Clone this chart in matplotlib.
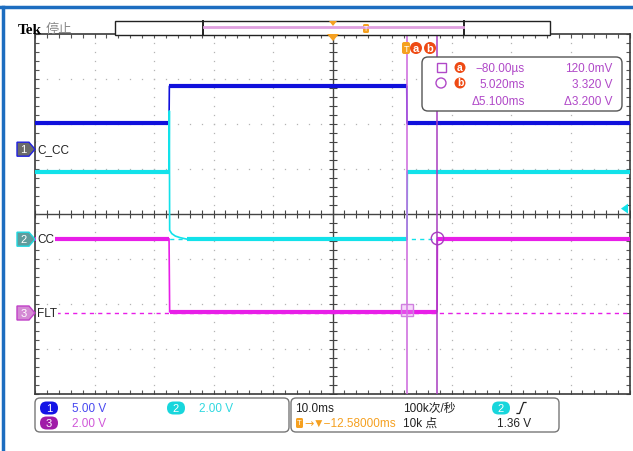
import matplotlib
matplotlib.use("Agg")
import matplotlib.pyplot as plt
from matplotlib.patches import FancyBboxPatch, Polygon, Rectangle, Circle
from matplotlib.ticker import FixedLocator

W, H = 633, 452

# horizontal: 10 ms/div, screen centre sits 12.58 ms before the trigger
ms_per_div = 10.0
centre_ms = -12.58
t_min = centre_ms - 5 * ms_per_div
t_max = centre_ms + 5 * ms_per_div

ch_names = ["C_CC", "CC", "FLT"]
ch_volts_div = [5.00, 2.00, 2.00]
ch_offset_div = [1.44, -0.56, -2.20]
ch_colors = ["#1010DC", "#12E2EA", "#E81EE8"]

# waveforms (time in ms from trigger, volts)
ch1_t = [t_min, -40.05, -40.00, -0.10, -0.06, t_max]
ch1_v = [2.9, 2.9, 7.0, 7.0, 2.9, 2.9]
ch2_t = [t_min, -40.05, -40.00, -39.95, -39.6, -39.0, -38.2, -37.0, -0.05, 0.0, t_max]
ch2_v = [3.0, 3.0, 5.7, 0.40, 0.25, 0.14, 0.07, 0.0, 0.0, 3.0, 3.0]
ch3_t = [t_min, -40.05, -39.95, 5.00, 5.05, t_max]
ch3_v = [3.3, 3.3, 0.05, 0.05, 3.3, 3.3]
traces = [(ch1_t, ch1_v), (ch2_t, ch2_v), (ch3_t, ch3_v)]

trig_level_v = 1.36          # on ch2
cursor_t = [-0.08, 5.02]     # ms
cursor_v = [0.12, 3.32]      # V, on ch3

FONT = ["Liberation Sans", "DejaVu Sans", "Noto Sans CJK SC"]
PURPLE = "#B048C8"
ORANGE = "#F5A020"
RED = "#EE4A14"


def to_div(v, ch):
    return ch_offset_div[ch] + v / ch_volts_div[ch]


fig = plt.figure(figsize=(W / 100, H / 100), dpi=100)
fig.patch.set_facecolor("white")

ax = fig.add_axes([35 / W, 1 - 395 / H, 595 / W, 360 / H])
ax.set_xlim(t_min, t_max)
ax.set_ylim(-4, 4)
for s in ax.spines.values():
    s.set_color("#3a3a3a")
    s.set_linewidth(1.2)

# graticule: dotted division lines, ticked centre cross
minor_x = [t_min + k * ms_per_div / 5 for k in range(51)]
minor_y = [-4 + k * 0.2 for k in range(41)]
ax.xaxis.set_major_locator(FixedLocator([]))
ax.yaxis.set_major_locator(FixedLocator([]))
ax.xaxis.set_minor_locator(FixedLocator(minor_x))
ax.yaxis.set_minor_locator(FixedLocator(minor_y))
ax.tick_params(which="minor", direction="in", length=3, width=0.8, color="#555555",
               top=True, right=True, labelbottom=False, labelleft=False)
for k in range(1, 10):
    if k == 5:
        continue
    xg = t_min + k * ms_per_div
    ax.plot([xg] * len(minor_y), minor_y, ls="none", marker="s", ms=0.9,
            color="#b4b4b4", mew=0, zorder=1)
for k in range(1, 8):
    if k == 4:
        continue
    yg = -4 + k
    ax.plot(minor_x, [yg] * len(minor_x), ls="none", marker="s", ms=0.9,
            color="#b4b4b4", mew=0, zorder=1)
ax.axhline(0, color="#444444", lw=1.0, zorder=1)
ax.axvline(centre_ms, color="#444444", lw=1.0, zorder=1)
ax.plot(minor_x, [0] * len(minor_x), ls="none", marker="|", ms=6, mew=0.8,
        color="#444444", zorder=1)
ax.plot([centre_ms] * len(minor_y), minor_y, ls="none", marker="_", ms=6, mew=0.8,
        color="#444444", zorder=1)

# ground reference dashes
ax.axhline(to_div(0, 1), xmin=0.03, color=ch_colors[1], lw=1.0, ls=(0, (3, 3)), zorder=2)
ax.axhline(to_div(0, 2), xmin=0.035, color=ch_colors[2], lw=1.0, ls=(0, (3, 3)), zorder=2)

# waveforms: thin vector line plus a wide band on the flat, noisy parts
for i, (t, v) in enumerate(traces):
    y = [to_div(val, i) for val in v]
    ax.plot(t, y, color=ch_colors[i], lw=1.2, zorder=3 + i)
    for j in range(len(t) - 1):
        if v[j] == v[j + 1]:
            ax.plot(t[j:j + 2], y[j:j + 2], color=ch_colors[i], lw=3.0,
                    solid_capstyle="butt", zorder=3 + i)

# cursors
ax.axvline(cursor_t[0], color="#CC66DD", lw=1.1, zorder=7)
ax.axvline(cursor_t[1], color="#A83CC0", lw=1.1, zorder=7)
ax.plot(cursor_t[0], to_div(cursor_v[0], 2), marker="s", ms=8, mfc=(0.9, 0.6, 0.95, 0.35),
        mec="#D080E0", mew=1.0, zorder=8)
ax.plot(cursor_t[1], to_div(cursor_v[1], 2), marker="o", ms=9, mfc="none",
        mec="#A83CC0", mew=1.0, zorder=8)

# channel tags and labels on the left
ytr = ax.get_yaxis_transform()
tag_fill = ["#6a6a6a", "#5f9c9c", "#d48ad4"]
tag_edge = ["#2020E0", "#20D8E0", "#C040C8"]
for i in range(3):
    yc = ch_offset_div[i]
    h = 7 / 45
    x0, x1, xt = -18 / 595, -6 / 595, 0.0
    poly = Polygon([(x0, yc - h), (x1, yc - h), (xt, yc), (x1, yc + h), (x0, yc + h)],
                   closed=True, transform=ytr, facecolor=tag_fill[i], edgecolor=tag_edge[i],
                   lw=1.0, clip_on=False, zorder=9)
    ax.add_patch(poly)
    ax.text(-11.5 / 595, yc, str(i + 1), transform=ytr, ha="center", va="center",
            color="white", fontsize=8, family=FONT, clip_on=False, zorder=10)
    ax.text(2 / 595, yc, ch_names[i], transform=ytr, ha="left", va="center",
            color="#222222", fontsize=8.5, family=FONT, zorder=9,
            bbox=dict(facecolor="white", edgecolor="none", pad=0.6))

# trigger level arrow on the right
yl = to_div(trig_level_v, 1)
ax.add_patch(Polygon([(1 - 9 / 595, yl), (1 - 2 / 595, yl + 5 / 45), (1 - 2 / 595, yl - 5 / 45)],
                     closed=True, transform=ytr, facecolor=ch_colors[1], edgecolor="none",
                     clip_on=False, zorder=9))

# ---------- screen furniture in pixel coordinates ----------
ov = fig.add_axes([0, 0, 1, 1], zorder=5)
ov.set_xlim(0, W)
ov.set_ylim(H, 0)
ov.axis("off")
ov.patch.set_alpha(0)

ov.plot([0, W], [8, 8], color="#1C6DC0", lw=2.5)
ov.plot([2.5, 2.5], [8, H], color="#1C6DC0", lw=2.5)

ov.text(18, 30, "Tek", fontsize=11, fontweight="bold", family="Liberation Serif",
        va="center", ha="left", color="black")
ov.text(46, 30, "停止", fontsize=9.5, family=FONT, va="center", ha="left", color="#8a8a8a")

# record bar
ov.add_patch(Rectangle((115, 22), 435, 14, facecolor="white", edgecolor="#222222", lw=1.0))
ov.plot([203, 203], [22, 36], color="#222222", lw=1.4)
ov.plot([464, 464], [22, 36], color="#222222", lw=1.4)
ov.plot([204, 463], [28, 28], color="#E0A0E0", lw=2.0)
ov.add_patch(Polygon([(329, 22), (337, 22), (333, 27)], closed=True, facecolor=ORANGE))
ov.add_patch(FancyBboxPatch((363, 25), 6, 9, boxstyle="round,pad=0,rounding_size=1.5",
                            facecolor=ORANGE, edgecolor="none"))
ov.text(366, 29.5, "T", fontsize=5, color="white", ha="center", va="center", family=FONT)
# centre marker on top of graticule
ov.add_patch(Polygon([(327, 35), (339, 35), (333, 42)], closed=True, facecolor=ORANGE))

# cursor flags
ov.add_patch(FancyBboxPatch((402, 43), 8, 12, boxstyle="round,pad=0,rounding_size=2",
                            facecolor=ORANGE, edgecolor="none", zorder=3))
ov.text(406, 49, "T", fontsize=6.5, color="white", ha="center", va="center", family=FONT, zorder=4)
for xc, lab in [(416, "a"), (430, "b")]:
    ov.add_patch(Circle((xc, 49), 6, facecolor=RED, edgecolor="none", zorder=4))
    ov.text(xc, 48.5, lab, fontsize=8, color="white", ha="center", va="center",
            fontweight="bold", family=FONT, zorder=5)

# cursor readout
ov.add_patch(FancyBboxPatch((422, 58), 200, 54, boxstyle="round,pad=0,rounding_size=6",
                            facecolor="white", edgecolor="#555555", lw=1.0))
ov.add_patch(Rectangle((437, 64), 9, 9, facecolor="none", edgecolor=PURPLE, lw=1.0))
ov.add_patch(Circle((441, 84), 5, facecolor="none", edgecolor=PURPLE, lw=1.0))
for yc, lab in [(68.5, "a"), (84, "b")]:
    ov.add_patch(Circle((460, yc), 5.5, facecolor=RED, edgecolor="none"))
    ov.text(460, yc - 0.5, lab, fontsize=7.5, color="white", ha="center", va="center",
            fontweight="bold", family=FONT)
dt = cursor_t[1] - cursor_t[0]
dv = cursor_v[1] - cursor_v[0]
rows = [
    ("\u221280.00\u00b5s", "120.0mV"),
    (f"{cursor_t[1]:.3f}ms", f"{cursor_v[1]:.3f} V"),
    (f"\u0394{dt:.3f}ms", f"\u0394{dv:.3f} V"),
]
for yc, (a_txt, b_txt) in zip([69, 85, 102], rows):
    ov.text(525, yc, a_txt, fontsize=8.5, color=PURPLE, ha="right", va="center", family=FONT)
    ov.text(612, yc, b_txt, fontsize=8.5, color=PURPLE, ha="right", va="center", family=FONT)

# bottom status boxes
ov.add_patch(FancyBboxPatch((35, 399), 254, 34, boxstyle="round,pad=0,rounding_size=5",
                            facecolor="white", edgecolor="#777777", lw=1.0))
ov.add_patch(FancyBboxPatch((291, 399), 268, 34, boxstyle="round,pad=0,rounding_size=5",
                            facecolor="white", edgecolor="#777777", lw=1.0))


def badge(x, y, num, color):
    ov.add_patch(FancyBboxPatch((x - 9, y - 6.5), 18, 13, boxstyle="round,pad=0,rounding_size=6.5",
                                facecolor=color, edgecolor="none"))
    ov.text(x, y, num, fontsize=8, color="white", ha="center", va="center", family=FONT)


badge(49, 409, "1", "#1414E6")
ov.text(72, 409, f"{ch_volts_div[0]:.2f} V", fontsize=8.5, color="#4848F0", va="center", family=FONT)
badge(176, 409, "2", "#18D6DC")
ov.text(199, 409, f"{ch_volts_div[1]:.2f} V", fontsize=8.5, color="#30D8E0", va="center", family=FONT)
badge(49, 424, "3", "#A01CA8")
ov.text(72, 424, f"{ch_volts_div[2]:.2f} V", fontsize=8.5, color="#D058D8", va="center", family=FONT)

ov.text(295, 409, f"{ms_per_div:.1f}ms", fontsize=8.5, color="#222222", va="center", family=FONT)
ov.text(403, 409, "100k次/秒", fontsize=8.5, color="#222222", va="center", family=FONT)
badge(501, 409, "2", "#18D6DC")
ov.plot([517, 519.5, 523.5, 526], [414.5, 414.5, 403.5, 403.5], color="#222222", lw=0.9)

ov.add_patch(FancyBboxPatch((296, 419), 7, 10, boxstyle="round,pad=0,rounding_size=1.5",
                            facecolor=ORANGE, edgecolor="none"))
ov.text(299.5, 424, "T", fontsize=5.5, color="white", ha="center", va="center", family=FONT)
ov.text(304, 424, "\u2192", fontsize=8, color=ORANGE, va="center", family="DejaVu Sans")
ov.text(313, 424, f"\u25bc\u2212{abs(centre_ms):.5f}ms", fontsize=8.5, color=ORANGE,
        va="center", family=FONT)
ov.text(403, 424, "10k 点", fontsize=8.5, color="#222222", va="center", family=FONT)
ov.text(497, 424, f"{trig_level_v:.2f} V", fontsize=8.5, color="#222222", va="center", family=FONT)

fig.savefig("out.png", dpi=100)
